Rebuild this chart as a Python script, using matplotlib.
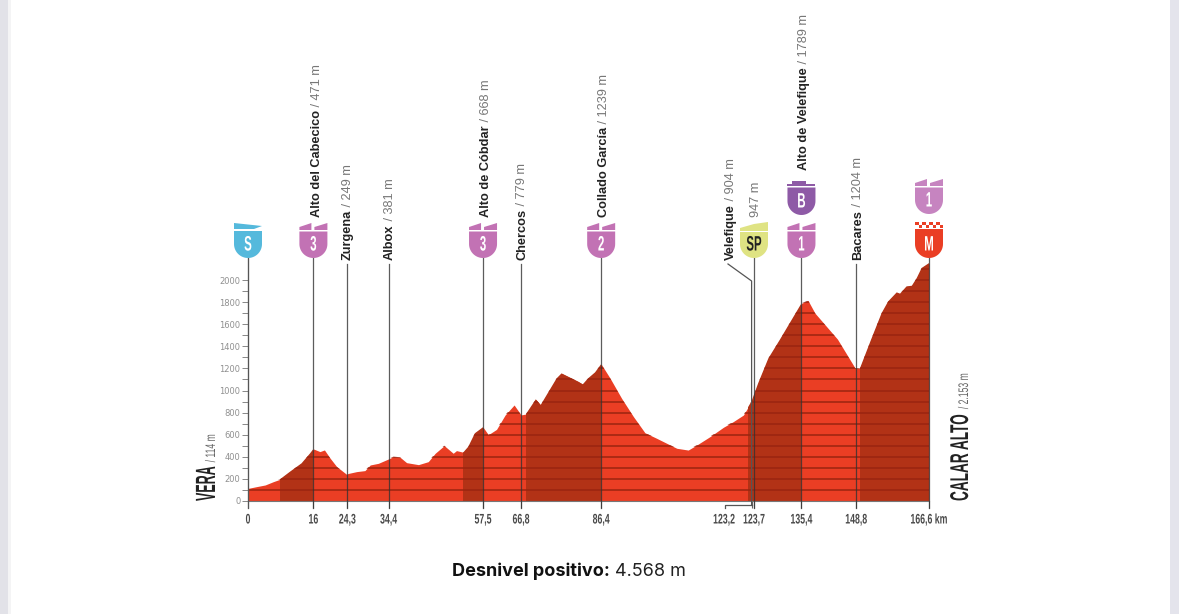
#!/usr/bin/env python3
# -*- coding: utf-8 -*-
import matplotlib
matplotlib.use('Agg')
import matplotlib.pyplot as plt
import numpy as np
from matplotlib.patches import Polygon, Rectangle
from matplotlib.patheffects import AbstractPathEffect
from matplotlib.transforms import Affine2D

# profile
km = [0, 2.1, 4.2, 6.2, 7.8, 10.3, 13.1, 15.2, 16, 17.6, 18.7, 20.1, 21.7, 24.1, 24.5, 26.6, 28.6,
      29.9, 31.9, 34.4, 35.6, 37.2, 38.8, 41.7, 44.1, 45.8, 48, 50.2, 51, 52.7, 53.9, 55.5, 57.5,
      58.8, 60.8, 62.9, 65.1, 66.8, 68, 70.4, 71.6, 75.5, 76.7, 80.8, 81.9, 83.2, 84.9, 86.4,
      88.6, 91.4, 94.3, 97.1, 100, 104.9, 107.7, 109.8, 113, 116.3, 118.7, 121.2, 123.2, 124.8,
      127.3, 130.1, 135.4, 137, 138.7, 144.2, 148.5, 149.7, 152.4, 155, 156.6, 158.7, 159.5,
      161.1, 162.4, 163.6, 164.8, 166.6]
alt = [114, 130, 145, 175, 196, 266, 341, 432, 471, 447, 462, 387, 311, 242, 249, 266, 275,
       326, 341, 381, 402, 396, 347, 329, 356, 432, 501, 432, 456, 441, 492, 613, 668,
       600, 648, 778, 869, 779, 787, 920, 869, 1110, 1155, 1080, 1056, 1110, 1164, 1239,
       1110, 929, 763, 618, 567, 477, 461, 507, 582, 667, 718, 778, 904, 1065,
       1291, 1459, 1789, 1815, 1700, 1465, 1204, 1200, 1458, 1700, 1806, 1888, 1876,
       1942, 1948, 2018, 2109, 2153]

climb_start = [7.8, 52.7, 68, 122.3, 149.7]
climb_end = [16, 57.5, 86.4, 135.4, 166.6]

tick_km = [0, 16, 24.3, 34.4, 57.5, 66.8, 86.4, 123.2, 123.7, 135.4, 148.8, 166.6]
tick_labels = ['0', '16', '24,3', '34,4', '57,5', '66,8', '86,4', '123,2', '123,7', '135,4', '148,8', '166,6 km']
y_labels = [0, 200, 400, 600, 800, 1000, 1200, 1400, 1600, 1800, 2000]

place_names = ['Alto del Cabecico', 'Zurgena', 'Albox', 'Alto de Cóbdar', 'Chercos', 'Collado García',
               'Velefique', '', 'Alto de Velefique', 'Bacares']
place_rest = [' / 471 m', ' / 249 m', ' / 381 m', ' / 668 m', ' / 779 m', ' / 1239 m',
              ' / 904 m', '947 m', ' / 1789 m', ' / 1204 m']
place_km = [16, 24.3, 34.4, 57.5, 66.8, 86.4, 123.2, 123.7, 135.4, 148.8]

# where each label sits on the page (pixels)
label_x = [317, 348, 390, 486, 522, 604, 731, 756, 804, 858]
label_y = [217, 260, 260, 217, 260, 217, 260, 217, 170, 260]

FONT = ['Liberation Sans']
RED = '#ea3e24'
DARK = '#b23216'
LINE = '#9a2410'
PINK = '#c272b4'

W, H = 1179, 614
fig = plt.figure(figsize=(W / 100, H / 100), dpi=100, facecolor='white')


# no condensed family is installed, so the text outlines get squeezed at draw time
class Squeeze(AbstractPathEffect):
    def __init__(self, sx, sy, ox, oy):
        super().__init__()
        self.sx, self.sy, self.ox, self.oy = sx, sy, ox, oy

    def draw_path(self, renderer, gc, tpath, affine, rgbFace=None):
        squeezed = affine + Affine2D().translate(-self.ox, -self.oy).scale(self.sx, self.sy).translate(self.ox, self.oy)
        renderer.draw_path(gc, tpath, squeezed, rgbFace)


# the chart itself, pixel box from the reference, 2200 m is the shield bottom
ax = fig.add_axes([248 / W, 1 - 501 / H, (929 - 248) / W, 243.1 / H])
ax.set_xlim(0, 166.6)
ax.set_ylim(0, 2200)
ax.patch.set_alpha(0)

poly = ax.fill_between(km, 0, alt, color=RED, lw=0, zorder=1)
clip = poly.get_paths()[0]
for a, b in zip(climb_start, climb_end):
    r = ax.fill_between([a, b], 0, 2200, color=DARK, lw=0, zorder=2)
    r.set_clip_path(clip, transform=ax.transData)
for level in range(100, 2200, 100):
    l = ax.plot([0, 166.6], [level, level], color=LINE, lw=1.1, zorder=3)[0]
    l.set_clip_path(clip, transform=ax.transData)

for s in ax.spines.values():
    s.set_visible(False)
ax.spines['left'].set_visible(True)
ax.spines['left'].set_color('#777777')
ax.spines['left'].set_linewidth(0.8)
ax.spines['bottom'].set_visible(True)
ax.spines['bottom'].set_color('#777777')
ax.spines['bottom'].set_linewidth(0.8)
ax.set_yticks(y_labels)
ax.set_yticks(range(100, 2000, 200), minor=True)
ax.tick_params(axis='y', which='major', length=4, width=0.7, color='#888888', labelcolor='#909090',
               labelsize=6, pad=1.5)
ax.tick_params(axis='y', which='minor', length=4, width=0.7, color='#888888')
ax.set_xticks(tick_km)
ax.set_xticklabels([])
ax.tick_params(axis='x', length=5, width=0.8, color='#666666')

# overlay in pixels for the road signs and the labels
ov = fig.add_axes([0, 0, 1, 1])
ov.set_xlim(0, W)
ov.set_ylim(H, 0)
ov.axis('off')
ov.patch.set_alpha(0)


def px(k):
    return 248 + k * (929 - 248) / 166.6


def shield_body(cx, y0, y1, color):
    t = np.linspace(0, np.pi, 30)
    hw = 14
    yy = y1 - 14 + 14 * np.sin(t)
    xx = cx + hw * np.cos(t)
    pts = [(cx - hw, y0), (cx + hw, y0)] + list(zip(xx, yy))
    ov.add_patch(Polygon(pts, closed=True, fc=color, ec='none', zorder=6))


def flag_top(cx, y0, color):
    # two little slanted flags on the climb signs
    ov.add_patch(Polygon([(cx - 14, y0 + 7), (cx - 14, y0 + 4), (cx - 2, y0), (cx - 2, y0 + 7)], fc=color, ec='none', zorder=6))
    ov.add_patch(Polygon([(cx + 1, y0 + 7), (cx + 1, y0 + 4), (cx + 14, y0), (cx + 14, y0 + 7)], fc=color, ec='none', zorder=6))


def sign_text(cx, cy, s, color='white', size=15):
    t = ov.text(cx, cy, s, color=color, ha='center', va='center_baseline', fontsize=size, fontweight='bold',
                family=FONT, zorder=7)
    t.set_path_effects([Squeeze(0.55, 1, cx, 0)])


def climb_sign(cx, y0, s, color=PINK):
    flag_top(cx, y0, color)
    shield_body(cx, y0 + 8.5, y0 + 35, color)
    sign_text(cx, y0 + 20, s)


# start
cx = px(0)
ov.add_patch(Polygon([(cx - 14, 223), (cx + 14, 226), (cx + 6, 229), (cx - 14, 229)], fc='#55b9dc', ec='none', zorder=6))
shield_body(cx, 231, 258, '#55b9dc')
sign_text(cx, 243, 'S')
climb_sign(px(16), 223, '3')
climb_sign(px(57.5), 223, '3')
climb_sign(px(86.4), 223, '2')
climb_sign(px(135.4), 223, '1')
climb_sign(929, 179, '1', color='#c684c0')

# sprint
cx = 754
ov.add_patch(Polygon([(cx - 14, 231), (cx - 14, 228), (cx, 224), (cx + 14, 222), (cx + 14, 231)], fc='#dfe383', ec='none', zorder=6))
shield_body(cx, 232, 258, '#dfe383')
sign_text(cx, 243, 'SP', color='#222222')

# bonus sign
cx = px(135.4)
ov.add_patch(Polygon([(cx - 14, 184), (cx - 9, 184), (cx - 9, 181), (cx + 5, 181), (cx + 5, 184), (cx + 14, 184), (cx + 14, 186), (cx - 14, 186)],
                     fc='#8e5aa6', ec='none', zorder=6))
shield_body(cx, 187.5, 215, '#8e5aa6')
sign_text(cx, 200, 'B')

# finish, checkered top
cx = 929
for i in range(8):
    ov.add_patch(Rectangle((cx - 14 + i * 3.5, 222 + (i % 2) * 3), 3.5, 3, fc=RED, ec='none', zorder=6))
shield_body(cx, 229, 258, RED)
sign_text(cx, 243, 'M')

# vertical lines
for name, k, y in zip(place_names, place_km, label_y):
    if k == 123.2:
        continue
    ov.plot([px(k), px(k)], [258 if y != 260 else 264, 508], color='#333333', lw=0.9, alpha=0.8, zorder=5)
ov.plot([px(0), px(0)], [258, 508], color='#555555', lw=0.9, zorder=5)
ov.plot([929, 929], [258, 508], color='#333333', lw=0.9, alpha=0.8, zorder=5)

# Velefique leader, it is the one at 123.2
ov.plot([728, 751.6, 751.6], [264, 281, 504.5], color='#555555', lw=0.9, zorder=5)
ov.plot([751.6, 724.5, 724.5], [504.5, 504.5, 508], color='#555555', lw=0.9, zorder=5)

fig.canvas.draw()
rend = fig.canvas.get_renderer()

for x, y, name, rest in zip(label_x, label_y, place_names, place_rest):
    y_now = y
    if name:
        t = ov.text(x, y_now, name, rotation=90, ha='center', va='bottom', fontsize=9.2, fontweight='bold',
                    color='#222222', family=FONT, zorder=8)
        y_now -= t.get_window_extent(rend).height
    ov.text(x, y_now, rest, rotation=90, ha='center', va='bottom', fontsize=9.2,
            color='#777777', family=FONT, zorder=8)


def end_label(x, first, second, size, squeeze, gap):
    # baseline at x, reading upwards from the axis line
    y = 501
    t = ov.text(x, y, first, rotation=90, rotation_mode='anchor', ha='left', va='baseline', fontsize=size,
                fontweight='bold', color='#222222', family=FONT, zorder=8)
    t.set_path_effects([Squeeze(1, squeeze, 0, H - y)])
    y -= t.get_window_extent(rend).height * squeeze + gap
    t2 = ov.text(x, y, second, rotation=90, rotation_mode='anchor', ha='left', va='baseline', fontsize=10,
                 color='#666666', family=FONT, zorder=8)
    t2.set_path_effects([Squeeze(1, 0.62, 0, H - y)])


end_label(215, 'VERA', '/ 114 m', 20, 0.45, 4)
end_label(968, 'CALAR ALTO', '/ 2.153 m', 18.5, 0.53, 5)

# km labels under the axis
tick_x = [px(k) for k in tick_km]
tick_x[7] = 724
tick_x[8] = 754
for x, s in zip(tick_x, tick_labels):
    t = ov.text(x, 518, s, ha='center', va='center_baseline', fontsize=10, color='#4a4a4a', family=FONT, fontweight='bold')
    t.set_path_effects([Squeeze(0.63, 1, x, 0)])

# footer
t = ov.text(452, 571, 'Desnivel positivo:', fontsize=13, fontweight='bold', color='#111111', family='Inter', va='center')
ov.text(t.get_window_extent(rend).x1 + 5, 571, '4.568 m', fontsize=13, color='#222222', family='Inter', va='center')

# page edges of the screenshot
ov.add_patch(Rectangle((0, 0), 8, H, fc='#e2e2e8', ec='none', zorder=0))
ov.add_patch(Rectangle((8, 0), 3, H, fc='#f4f4f5', ec='none', zorder=0))
ov.add_patch(Rectangle((1170, 0), 9, H, fc='#e4e4ec', ec='none', zorder=0))

fig.savefig('out.png', dpi=100)
